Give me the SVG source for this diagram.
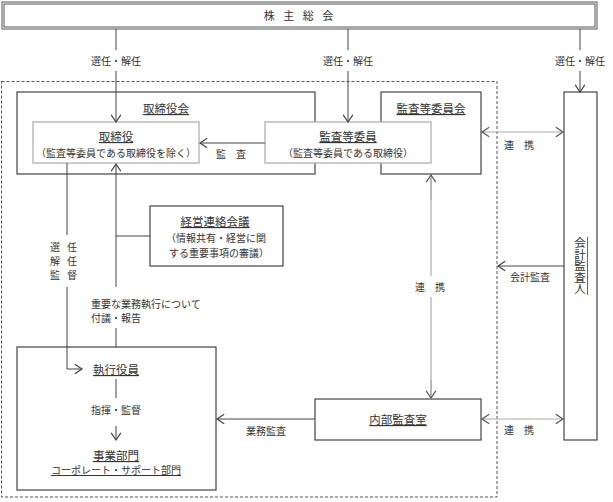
<svg xmlns="http://www.w3.org/2000/svg" width="613" height="502" viewBox="0 0 613 502">
<defs>
<marker id="ah" markerUnits="userSpaceOnUse" markerWidth="12" markerHeight="12" viewBox="-7 -5 8 10" refX="0" refY="0" orient="auto-start-reverse">
<path d="M -6 -4 L 0 0 L -6 4" fill="none" stroke="#444" stroke-width="1"/>
</marker>
<marker id="ahg" markerUnits="userSpaceOnUse" markerWidth="12" markerHeight="12" viewBox="-7 -5 8 10" refX="0" refY="0" orient="auto-start-reverse">
<path d="M -6 -4 L 0 0 L -6 4" fill="none" stroke="#555" stroke-width="1"/>
</marker>
</defs>
<style>
text{font-family:"Noto Sans CJK JP","Noto Sans CJK SC",sans-serif;fill:#333;font-size:10px;text-anchor:middle}
.t{font-size:11.5px;text-decoration:underline}
.s{font-size:10px}
.box{fill:#fff;stroke:#444;stroke-width:1.2}
.ibox{fill:#fff;stroke:#aaa;stroke-width:1.2}
.ln{fill:none;stroke:#444;stroke-width:1}
.gl{fill:none;stroke:#aaa;stroke-width:1.2}
.st{text-anchor:start}
</style>
<rect x="1.5" y="81.5" width="495.5" height="415.5" fill="none" stroke="#555" stroke-width="1" stroke-dasharray="3,2"/>
<g id="kabunushi">
<rect x="2" y="2" width="595" height="27" fill="#fff" stroke="#555" stroke-width="1"/>
<rect x="4" y="4" width="591" height="23" fill="none" stroke="#555" stroke-width="1"/>
<text x="300" y="20" style="font-size:11px;letter-spacing:3px">株 主 総 会</text>
</g>
<g id="torishimariyakukai">
<rect class="box" x="17" y="92" width="298" height="82"/>
<text class="t" x="166" y="113">取締役会</text>
</g>
<g id="kansatouiinkai">
<rect class="box" x="381" y="92" width="100" height="82"/>
<text class="t" x="431" y="113">監査等委員会</text>
</g>
<g id="torishimariyaku">
<rect class="ibox" x="33" y="122" width="166" height="41"/>
<text class="t" x="116" y="141">取締役</text>
<text class="s" x="116" y="157">（監査等委員である取締役を除く）</text>
</g>
<g id="kansatouiin">
<rect class="ibox" x="265" y="122" width="166" height="41"/>
<text class="t" x="348" y="141">監査等委員</text>
<text class="s" x="348" y="157">（監査等委員である取締役）</text>
</g>
<g id="kaikeikansanin">
<rect class="box" x="564" y="92" width="33" height="348"/>
<text x="580" y="237" style="font-size:11.5px;writing-mode:vertical-rl;text-anchor:start">会計監査人</text>
<line x1="587.5" y1="237" x2="587.5" y2="295" stroke="#444" stroke-width="0.8"/>
</g>
<g id="keieirenrakukaigi">
<rect class="box" x="150" y="206" width="133" height="60"/>
<text class="t" x="215" y="226">経営連絡会議</text>
<text class="s" x="216" y="242">（情報共有・経営に関</text>
<text class="s" x="219" y="257">する重要事項の審議）</text>
</g>
<g id="shikkouyakuin">
<rect class="box" x="17" y="347" width="199" height="143"/>
<text class="t" x="116" y="374">執行役員</text>
<text class="t" x="116" y="460">事業部門</text>
<text class="s" x="116" y="474" style="text-decoration:underline">コーポレート・サポート部門</text>
</g>
<g id="naibukansashitsu">
<rect class="box" x="315" y="399" width="166" height="41"/>
<text class="t" x="398" y="424">内部監査室</text>
</g>
<g id="connectors">
<line class="ln" x1="116" y1="29" x2="116" y2="50"/>
<line class="ln" x1="116" y1="71" x2="116" y2="122" marker-end="url(#ah)"/>
<text x="116" y="65">選任・解任</text>
<line class="ln" x1="348" y1="29" x2="348" y2="50"/>
<line class="ln" x1="348" y1="71" x2="348" y2="122" marker-end="url(#ah)"/>
<text x="348" y="65">選任・解任</text>
<line class="ln" x1="580" y1="29" x2="580" y2="50"/>
<line class="ln" x1="580" y1="71" x2="580" y2="92" marker-end="url(#ah)"/>
<text x="580" y="65">選任・解任</text>
<line class="ln" x1="265" y1="143" x2="200" y2="143" marker-end="url(#ah)"/>
<text x="233" y="158" style="letter-spacing:4px">監 査</text>
<line class="gl" x1="482" y1="132" x2="563" y2="132" marker-start="url(#ahg)" marker-end="url(#ahg)"/>
<text x="521" y="149" style="letter-spacing:4px">連 携</text>
<line class="ln" x1="564" y1="266" x2="498" y2="266" marker-end="url(#ah)"/>
<text x="530" y="281">会計監査</text>
<line class="gl" x1="431" y1="175" x2="431" y2="276"/>
<line class="gl" x1="431" y1="297" x2="431" y2="398"/>
<line class="gl" x1="431" y1="200" x2="431" y2="175" marker-end="url(#ahg)"/>
<line class="gl" x1="431" y1="380" x2="431" y2="398" marker-end="url(#ahg)"/>
<text x="432" y="291" style="letter-spacing:4px">連 携</text>
<line class="ln" x1="116" y1="287" x2="116" y2="164" marker-end="url(#ah)"/>
<line class="ln" x1="116" y1="328" x2="116" y2="347"/>
<line class="ln" x1="116" y1="236" x2="150" y2="236"/>
<text class="st" x="91" y="308">重要な業務執行について</text>
<text class="st" x="91" y="322">付議・報告</text>
<line class="ln" x1="67" y1="163" x2="67" y2="235"/>
<polyline class="ln" points="67,287 67,369 82,369" marker-end="url(#ah)"/>
<text x="67" y="251" style="letter-spacing:7px">選任</text>
<text x="67" y="265" style="letter-spacing:7px">解任</text>
<text x="67" y="279" style="letter-spacing:7px">監督</text>
<line class="ln" x1="116" y1="379" x2="116" y2="398"/>
<line class="ln" x1="116" y1="426" x2="116" y2="440" marker-end="url(#ah)"/>
<text x="116" y="414">指揮・監督</text>
<line class="ln" x1="315" y1="419" x2="217" y2="419" marker-end="url(#ah)"/>
<text x="266" y="435">業務監査</text>
<line class="gl" x1="482" y1="419" x2="563" y2="419" marker-start="url(#ahg)" marker-end="url(#ahg)"/>
<text x="521" y="434" style="letter-spacing:4px">連 携</text>
</g>
</svg>
